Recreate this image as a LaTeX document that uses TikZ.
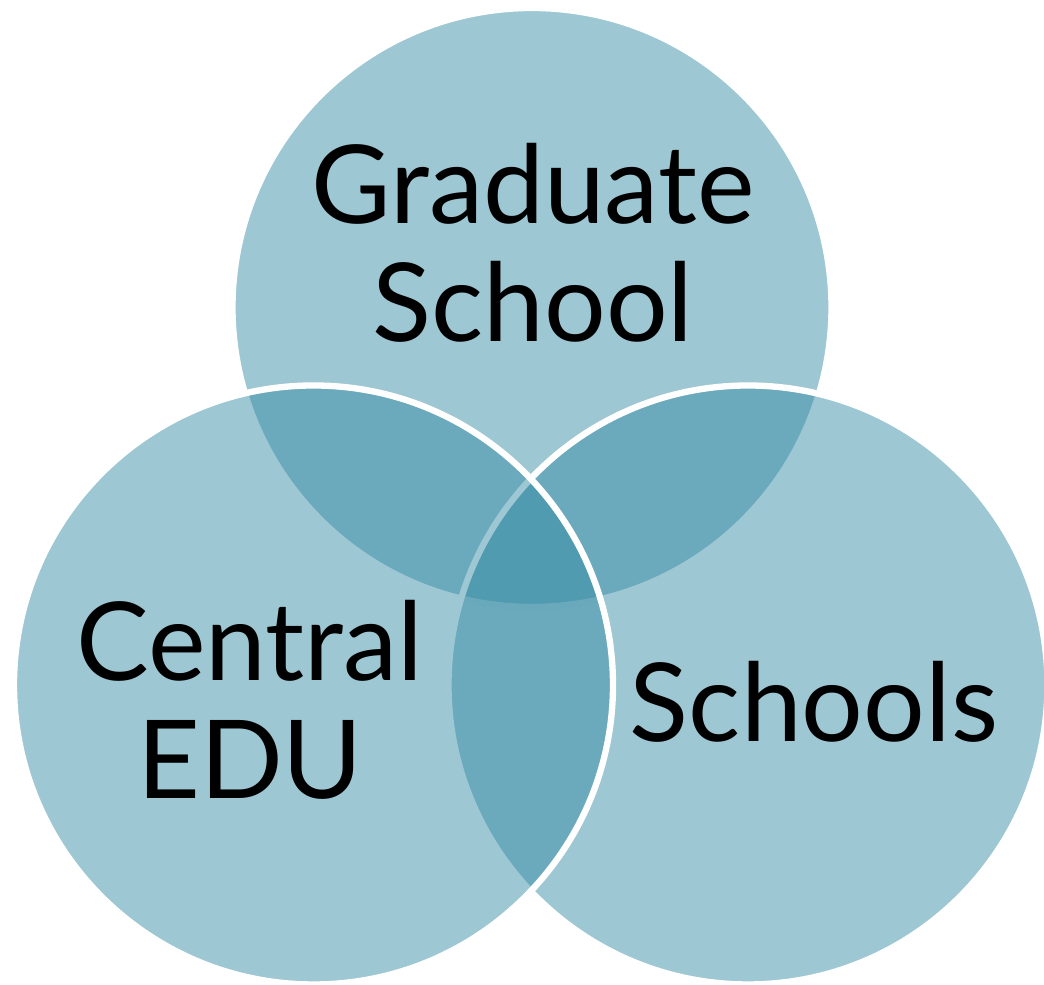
\documentclass[tikz,border=0pt]{standalone}
\usepackage{fontspec}
\setmainfont{Lato}
\begin{document}
\begin{tikzpicture}[
    venn/.style={fill=vennblue, fill opacity=0.48, draw=white, line width=1.8pt},
    label/.style={inner sep=0pt, align=center, text=black,
        font=\fontsize{31}{33.5}\selectfont}
  ]
  \definecolor{vennblue}{RGB}{51,138,163}
  \useasboundingbox (0,0) rectangle (10.44,9.85);

  % Circles: top first, then right, then left on top
  \foreach \cx/\cy in {5.32/6.775, 7.48/3.0, 3.135/3.0} {
    \filldraw[venn] (\cx,\cy) circle (2.995);
  }

  % Labels
  \node[label] (grad) at (5.33,7.42) {Graduate\\School};
  \node[label] (central) at (2.50,2.85) {Central\\EDU};
  \node[label] (schools) at (8.14,2.83) {Schools};
\end{tikzpicture}
\end{document}
